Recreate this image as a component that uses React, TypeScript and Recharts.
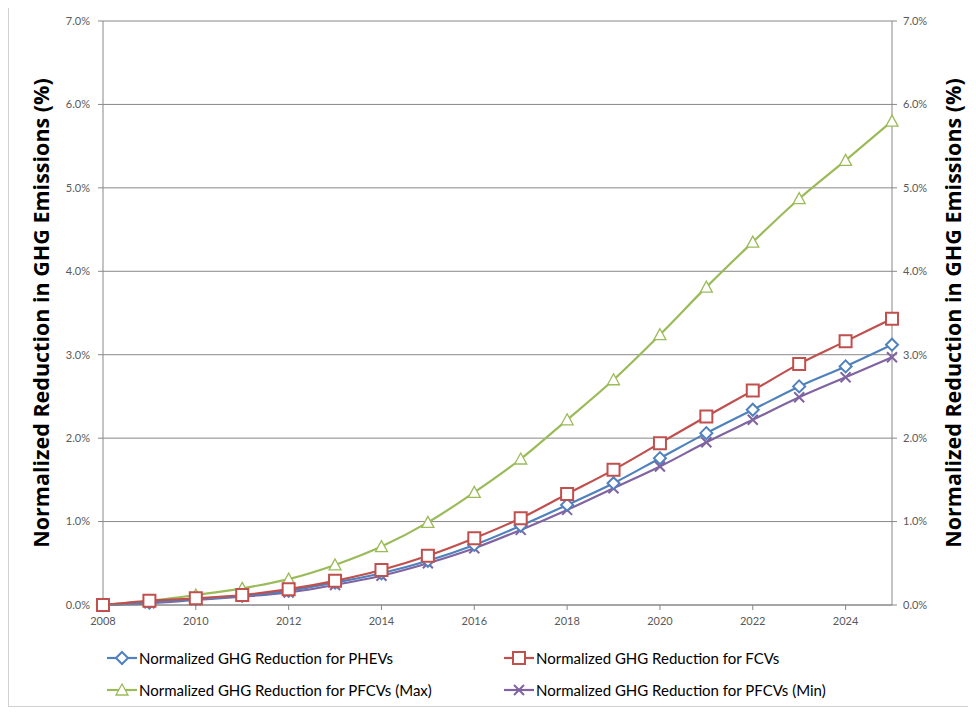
import { LineChart, Line, XAxis, YAxis, CartesianGrid } from 'recharts';

const years = [2008, 2009, 2010, 2011, 2012, 2013, 2014, 2015, 2016, 2017, 2018, 2019, 2020, 2021, 2022, 2023, 2024, 2025];
const phevs = [0, 0.03, 0.07, 0.11, 0.17, 0.27, 0.38, 0.53, 0.72, 0.95, 1.2, 1.46, 1.76, 2.06, 2.34, 2.62, 2.86, 3.12];
const fcvs = [0, 0.05, 0.08, 0.12, 0.19, 0.29, 0.42, 0.59, 0.8, 1.04, 1.33, 1.62, 1.94, 2.26, 2.57, 2.89, 3.16, 3.43];
const pfcvMax = [0, 0.05, 0.12, 0.2, 0.31, 0.48, 0.7, 0.99, 1.35, 1.75, 2.22, 2.7, 3.24, 3.81, 4.35, 4.87, 5.33, 5.8];
const pfcvMin = [0, 0.02, 0.06, 0.1, 0.15, 0.24, 0.35, 0.5, 0.68, 0.9, 1.14, 1.4, 1.66, 1.95, 2.22, 2.49, 2.73, 2.97];
const xTicks = [2008, 2010, 2012, 2014, 2016, 2018, 2020, 2022, 2024];
const yTicks = [0, 1, 2, 3, 4, 5, 6, 7];

const seriesNames = [
    'Normalized GHG Reduction for PHEVs',
    'Normalized GHG Reduction for FCVs',
    'Normalized GHG Reduction for PFCVs (Max)',
    'Normalized GHG Reduction for PFCVs (Min)',
];

const BLUE = '#4F81BD';
const RED = '#C0504D';
const GREEN = '#9BBB59';
const PURPLE = '#8064A2';
const GRID = '#888888';
const TICK = '#595959';

const data = years.map((y, i) => ({
    year: y,
    phevs: phevs[i],
    fcvs: fcvs[i],
    max: pfcvMax[i],
    min: pfcvMin[i],
}));

// marker shapes, shared between plot and legend
function markerPath(kind: string, cx: number, cy: number) {
    if (kind === 'diamond') return `M${cx},${cy - 6}L${cx + 6},${cy}L${cx},${cy + 6}L${cx - 6},${cy}Z`;
    if (kind === 'square') return `M${cx - 6},${cy - 6}H${cx + 6}V${cy + 6}H${cx - 6}Z`;
    if (kind === 'triangle') return `M${cx},${cy - 6}L${cx + 6},${cy + 5}L${cx - 6},${cy + 5}Z`;
    return `M${cx - 5},${cy - 5}L${cx + 5},${cy + 5}M${cx - 5},${cy + 5}L${cx + 5},${cy - 5}`;
}

const makeDot = (kind: string, color: string) => (props: any) => {
    const { cx, cy, index } = props;
    if (cx == null || cy == null) return <g key={index} />;
    return (
        <path
            key={index}
            d={markerPath(kind, cx, cy)}
            fill={kind === 'x' ? 'none' : '#fff'}
            stroke={color}
            strokeWidth={kind === 'triangle' ? 1.3 : 2}
        />
    );
};

const legendItems = [
    { name: seriesNames[0], color: BLUE, kind: 'diamond' },
    { name: seriesNames[1], color: RED, kind: 'square' },
    { name: seriesNames[2], color: GREEN, kind: 'triangle' },
    { name: seriesNames[3], color: PURPLE, kind: 'x' },
];

const fmt = (v: number) => `${v.toFixed(1)}%`;
const titleText = 'Normalized Reduction in GHG Emissions (%)';
const titleStyle = {
    fill: '#000',
    fontSize: 21.5,
    fontWeight: 'bold',
    fontFamily: '"Open Sans", sans-serif',
    textAnchor: 'middle',
};

function App() {
    return (
        <div
            style={{
                position: 'relative',
                width: 964,
                height: 700,
                marginTop: -3,
                border: '1px solid #d0d0d0',
                fontFamily: 'Lato, sans-serif',
            }}
        >
            <LineChart width={962} height={630} data={data} margin={{ top: 15, right: 10, left: 10, bottom: 10 }}>
                <CartesianGrid vertical={false} stroke={GRID} yAxisId="left" />
                <XAxis
                    dataKey="year"
                    type="number"
                    domain={[2008, 2025]}
                    ticks={xTicks}
                    height={21}
                    tickSize={5}
                    tickMargin={7}
                    stroke={GRID}
                    tick={{ fill: TICK, fontSize: 11 }}
                />
                <YAxis
                    yAxisId="left"
                    domain={[0, 7]}
                    ticks={yTicks}
                    width={84}
                    tickSize={5}
                    tickMargin={8}
                    tickFormatter={fmt}
                    stroke={GRID}
                    tick={{ fill: TICK, fontSize: 11 }}
                    label={{ value: titleText, angle: -90, position: 'center', dx: -20, style: titleStyle }}
                />
                <YAxis
                    yAxisId="right"
                    orientation="right"
                    domain={[0, 7]}
                    ticks={yTicks}
                    width={69}
                    tickSize={5}
                    tickMargin={6}
                    tickFormatter={fmt}
                    stroke={GRID}
                    tick={{ fill: TICK, fontSize: 11 }}
                    label={{ value: titleText, angle: -90, position: 'center', dx: 27, style: titleStyle }}
                />
                <Line yAxisId="left" type="monotone" dataKey="max" name={seriesNames[2]} stroke={GREEN} strokeWidth={2.2}
                    dot={makeDot('triangle', GREEN)} isAnimationActive={false} />
                <Line yAxisId="left" type="monotone" dataKey="min" name={seriesNames[3]} stroke={PURPLE} strokeWidth={2.2}
                    dot={makeDot('x', PURPLE)} isAnimationActive={false} />
                <Line yAxisId="left" type="monotone" dataKey="phevs" name={seriesNames[0]} stroke={BLUE} strokeWidth={2.2}
                    dot={makeDot('diamond', BLUE)} isAnimationActive={false} />
                <Line yAxisId="right" type="monotone" dataKey="fcvs" name={seriesNames[1]} stroke={RED} strokeWidth={2.2}
                    dot={makeDot('square', RED)} isAnimationActive={false} />
            </LineChart>
            <div
                style={{
                    position: 'absolute',
                    left: 96,
                    top: 641,
                    display: 'grid',
                    gridTemplateColumns: '397px 400px',
                    rowGap: 10,
                    fontSize: 15,
                    lineHeight: '22px',
                    color: '#000',
                }}
            >
                {legendItems.map((it) => (
                    <div key={it.name} style={{ display: 'flex', alignItems: 'center' }}>
                        <svg width={34} height={16}>
                            <line x1={2} y1={8} x2={32} y2={8} stroke={it.color} strokeWidth={2.2} />
                            <path
                                d={markerPath(it.kind, 17, 8)}
                                fill={it.kind === 'x' ? 'none' : '#fff'}
                                stroke={it.color}
                                strokeWidth={it.kind === 'triangle' ? 1.3 : 2}
                            />
                        </svg>
                        <span>{it.name}</span>
                    </div>
                ))}
            </div>
        </div>
    );
}

export default App;
